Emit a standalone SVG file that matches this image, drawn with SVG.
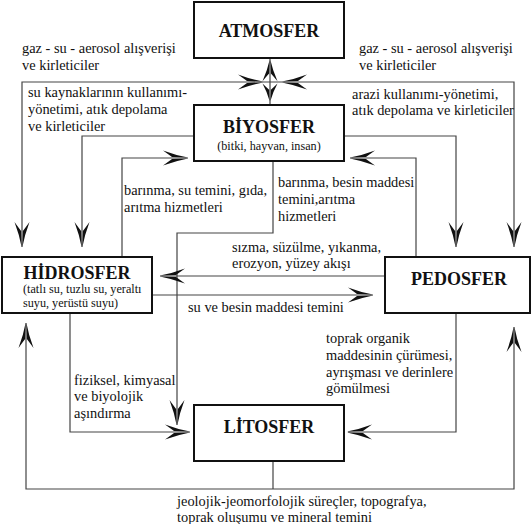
<svg xmlns="http://www.w3.org/2000/svg" xmlns:xlink="http://www.w3.org/1999/xlink" width="532" height="524" viewBox="0 0 532 524">
<style>
.box{fill:#fff;stroke:#111;stroke-width:2}
.title{font-family:"Liberation Serif","Times New Roman",serif;font-weight:bold;font-size:18px;fill:#111;text-anchor:middle}
.sub{font-family:"Liberation Serif","Times New Roman",serif;font-size:12.2px;fill:#111}
.lbl{font-family:"Liberation Serif","Times New Roman",serif;font-size:14.4px;fill:#111}
.ln{fill:none;stroke:#444;stroke-width:1.2}
.ah{fill:#111}
</style>
<defs>
<g id="ar">
<path d="M0,-0.4 Q-12,-2.6 -25,-7.5 Q-19,-3.2 -16,-0.9 Z"/>
<path d="M0,0.4 Q-12,2.6 -25,7.5 Q-19,3.2 -16,0.9 Z"/>
</g>
</defs>
<rect width="532" height="524" fill="#fff"/>
<g id="connectors">
<path class="ln" d="M22,247 V82 H514 V247"/>
<path class="ln" d="M270,58 V105"/>
<path class="ln" d="M194,136 H82 V247"/>
<path class="ln" d="M344,136 H456 V247"/>
<path class="ln" d="M122,257 V158 H188"/>
<path class="ln" d="M416,257 V158 H350"/>
<path class="ln" d="M273,161 V233 H177 V425"/>
<path class="ln" d="M70,313 V432 H190"/>
<path class="ln" d="M385,276 H160"/>
<path class="ln" d="M152,295 H373"/>
<path class="ln" d="M456,313 V432 H348"/>
<path class="ln" d="M273,461 V489"/>
<path class="ln" d="M26,323 V489 H514 V327"/>
<g class="ah">
<use xlink:href="#ar" transform="translate(263,82)"/>
<use xlink:href="#ar" transform="translate(282,82) rotate(180)"/>
<use xlink:href="#ar" transform="translate(270,60) rotate(-90) scale(0.85,1)"/>
<use xlink:href="#ar" transform="translate(270,101) rotate(90) scale(0.7,1)"/>
<use xlink:href="#ar" transform="translate(22,247) rotate(90)"/>
<use xlink:href="#ar" transform="translate(82,247) rotate(90)"/>
<use xlink:href="#ar" transform="translate(456,247) rotate(90)"/>
<use xlink:href="#ar" transform="translate(514,247) rotate(90)"/>
<use xlink:href="#ar" transform="translate(188,158)"/>
<use xlink:href="#ar" transform="translate(350,158) rotate(180)"/>
<use xlink:href="#ar" transform="translate(160,276) rotate(180)"/>
<use xlink:href="#ar" transform="translate(373,295)"/>
<use xlink:href="#ar" transform="translate(177,425) rotate(90)"/>
<use xlink:href="#ar" transform="translate(190,432)"/>
<use xlink:href="#ar" transform="translate(347,432) rotate(180)"/>
<use xlink:href="#ar" transform="translate(26,323) rotate(-90)"/>
<use xlink:href="#ar" transform="translate(514,327) rotate(-90)"/>
</g>
</g>
<g id="atmosfer">
<rect class="box" x="194" y="2" width="150" height="56"/>
<text class="title" x="269" y="37">ATMOSFER</text>
</g>
<g id="biyosfer">
<rect class="box" x="194" y="105" width="150" height="56"/>
<text class="title" x="269" y="133">BİYOSFER</text>
<text class="sub" x="269" y="150" text-anchor="middle">(bitki, hayvan, insan)</text>
</g>
<g id="hidrosfer">
<rect class="box" x="2" y="257" width="150" height="56"/>
<text class="title" x="77" y="279">HİDROSFER</text>
<text class="sub" x="23" y="293">(tatlı su, tuzlu su, yeraltı</text>
<text class="sub" x="23" y="307">suyu, yerüstü suyu)</text>
</g>
<g id="pedosfer">
<rect class="box" x="385" y="257" width="145" height="56"/>
<text class="title" x="459" y="285">PEDOSFER</text>
</g>
<g id="litosfer">
<rect class="box" x="194" y="405" width="150" height="56"/>
<text class="title" x="269" y="433">LİTOSFER</text>
</g>
<g id="labels">
<text class="lbl" x="22" y="53">gaz - su - aerosol alışverişi</text>
<text class="lbl" x="22" y="70">ve kirleticiler</text>
<text class="lbl" x="359" y="53">gaz - su - aerosol alışverişi</text>
<text class="lbl" x="359" y="70">ve kirleticiler</text>
<text class="lbl" x="28" y="97">su kaynaklarının kullanımı-</text>
<text class="lbl" x="28" y="114">yönetimi, atık depolama</text>
<text class="lbl" x="28" y="131">ve kirleticiler</text>
<text class="lbl" x="352" y="99">arazi kullanımı-yönetimi,</text>
<text class="lbl" x="352" y="115">atık depolama ve kirleticiler</text>
<text class="lbl" x="124" y="195">barınma, su temini, gıda,</text>
<text class="lbl" x="124" y="212">arıtma hizmetleri</text>
<text class="lbl" x="278" y="187">barınma, besin maddesi</text>
<text class="lbl" x="278" y="204">temini,arıtma</text>
<text class="lbl" x="278" y="221">hizmetleri</text>
<text class="lbl" x="232" y="252">sızma, süzülme, yıkanma,</text>
<text class="lbl" x="232" y="268">erozyon, yüzey akışı</text>
<text class="lbl" x="188" y="312">su ve besin maddesi temini</text>
<text class="lbl" x="326" y="343">toprak organik</text>
<text class="lbl" x="326" y="360">maddesinin çürümesi,</text>
<text class="lbl" x="326" y="377">ayrışması ve derinlere</text>
<text class="lbl" x="326" y="393">gömülmesi</text>
<text class="lbl" x="74" y="385">fiziksel, kimyasal</text>
<text class="lbl" x="74" y="401">ve biyolojik</text>
<text class="lbl" x="74" y="418">aşındırma</text>
<text class="lbl" x="177" y="506">jeolojik-jeomorfolojik süreçler, topografya,</text>
<text class="lbl" x="177" y="522">toprak oluşumu ve mineral temini</text>
</g>
</svg>
